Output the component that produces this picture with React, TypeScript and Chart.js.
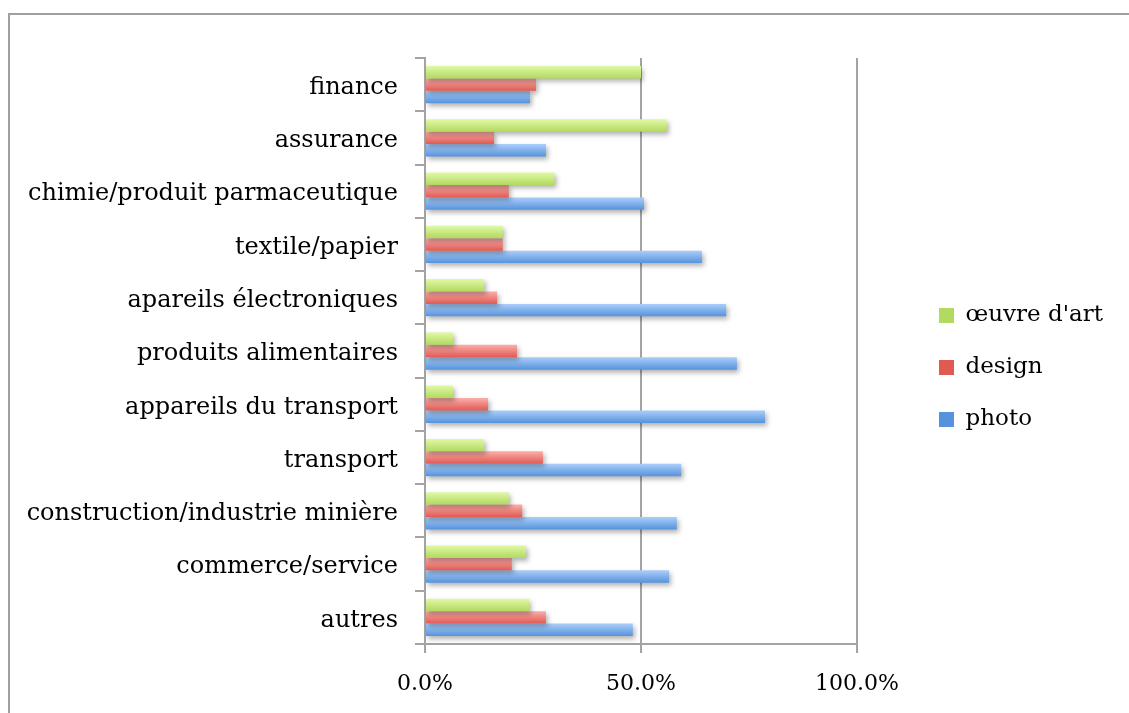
import React, { useEffect, useRef } from "react";
import { Chart, registerables } from "chart.js";

Chart.register(...registerables);

const categories = [
  "finance",
  "assurance",
  "chimie/produit parmaceutique",
  "textile/papier",
  "apareils électroniques",
  "produits alimentaires",
  "appareils du transport",
  "transport",
  "construction/industrie minière",
  "commerce/service",
  "autres",
];
const seriesNames = ["œuvre d'art", "design", "photo"];
const oeuvreValues = [50.0, 56.0, 30.0, 18.0, 13.7, 6.5, 6.5, 13.7, 19.4, 23.4, 24.1];
const designValues = [25.7, 16.0, 19.4, 18.0, 16.7, 21.3, 14.6, 27.3, 22.5, 20.1, 28.0];
const photoValues = [24.3, 28.0, 50.7, 64.1, 69.7, 72.2, 78.7, 59.3, 58.3, 56.5, 48.1];
const xTickValues = [0, 50, 100];

const CAT_PCT = 0.7;
const FONT = "'DejaVu Serif', 'Liberation Serif', serif";
const GRID = "#a3a3a3";

function gradientFill(top: string, mid: string, bottom: string) {
  return (c: any) => {
    const chart = c.chart;
    const ys = chart.scales && chart.scales.y;
    if (c.type !== "data" || !ys || !chart.chartArea) return mid;
    const cat = (ys.bottom - ys.top) / categories.length;
    const bar = (cat * CAT_PCT) / 3;
    const start = ys.getPixelForValue(c.dataIndex) - (cat * CAT_PCT) / 2 + c.datasetIndex * bar;
    const g = chart.ctx.createLinearGradient(0, start, 0, start + bar);
    g.addColorStop(0, top);
    g.addColorStop(1, bottom);
    return g;
  };
}

const shadowPlugin = {
  id: "barShadow",
  beforeDatasetsDraw(chart: any) {
    const ctx = chart.ctx;
    ctx.save();
    ctx.shadowColor = "rgba(0,0,0,0.3)";
    ctx.shadowBlur = 5;
    ctx.shadowOffsetX = 2;
    ctx.shadowOffsetY = 3;
  },
  afterDatasetsDraw(chart: any) {
    chart.ctx.restore();
  },
};

const LEGEND_W = 272;
const legendPlacePlugin = {
  id: "legendPlace",
  beforeLayout(chart: any) {
    const lg = chart.legend;
    if (lg && !lg.__patched) {
      const orig = lg.fit.bind(lg);
      lg.fit = function () {
        orig();
        this.width = LEGEND_W;
      };
      lg.__patched = true;
    }
  },
  afterLayout(chart: any) {
    const lg = chart.legend;
    if (!lg) return;
    const dx = 53;
    const dy = -18;
    lg.left += dx;
    lg.right += dx;
    lg.top += dy;
    lg.bottom += dy;
  },
};

export default function App() {
  const ref = useRef<HTMLCanvasElement | null>(null);

  useEffect(() => {
    if (!ref.current) return;
    const chart = new Chart(ref.current, {
      type: "bar",
      data: {
        labels: categories,
        datasets: [
          {
            label: seriesNames[0],
            data: oeuvreValues,
            backgroundColor: gradientFill("#e0f9a6", "#cbea84", "#b2d960"),
          },
          {
            label: seriesNames[1],
            data: designValues,
            backgroundColor: gradientFill("#fcaeaa", "#f08680", "#e05a53"),
          },
          {
            label: seriesNames[2],
            data: photoValues,
            backgroundColor: gradientFill("#abcefa", "#82b2ec", "#5693dc"),
          },
        ],
      },
      options: {
        indexAxis: "y",
        responsive: false,
        animation: false,
        events: [],
        datasets: {
          bar: {
            categoryPercentage: CAT_PCT,
            barPercentage: 1,
            borderWidth: 0,
          },
        },
        layout: { padding: { top: 58, left: 0, right: 0, bottom: 0 } },
        scales: {
          x: {
            min: 0,
            max: 100,
            afterFit: (s: any) => {
              s.height = 69;
            },
            afterBuildTicks: (s: any) => {
              s.ticks = xTickValues.map((v) => ({ value: v }));
            },
            ticks: {
              color: "#000",
              font: { family: FONT, size: 22 },
              padding: 18,
              maxRotation: 0,
              callback: (v: any) => `${Number(v).toFixed(1)}%`,
            },
            grid: {
              color: GRID,
              lineWidth: 2,
              drawTicks: true,
              tickLength: 9,
              tickColor: GRID,
            },
            border: { display: true, color: GRID, width: 2 },
          },
          y: {
            afterFit: (s: any) => {
              s.width = 425;
            },
            ticks: {
              color: "#000",
              font: { family: FONT, size: 24 },
              padding: 17,
              labelOffset: 3,
            },
            grid: {
              offset: true,
              drawOnChartArea: false,
              drawTicks: true,
              tickLength: 10,
              color: GRID,
              lineWidth: 2,
            },
            border: { display: true, color: GRID, width: 2 },
          },
        },
        plugins: {
          title: { display: false },
          tooltip: { enabled: false },
          legend: {
            display: true,
            position: "right",
            align: "center",
            labels: {
              color: "#000",
              font: { family: FONT, size: 23 },
              boxWidth: 15,
              boxHeight: 15,
              padding: 29,
            },
          },
        },
      },
      plugins: [shadowPlugin, legendPlacePlugin],
    });
    return () => chart.destroy();
  }, []);

  return (
    <>
      <div
        style={{
          position: "fixed",
          left: 8,
          top: 13,
          width: 1300,
          height: 900,
          borderTop: "2px solid #a0a0a0",
          borderLeft: "2px solid #a0a0a0",
          boxSizing: "border-box",
        }}
      />
      <canvas
        ref={ref}
        width={1129}
        height={713}
        style={{ position: "fixed", left: 0, top: 0, width: 1129, height: 713, display: "block" }}
      />
    </>
  );
}
